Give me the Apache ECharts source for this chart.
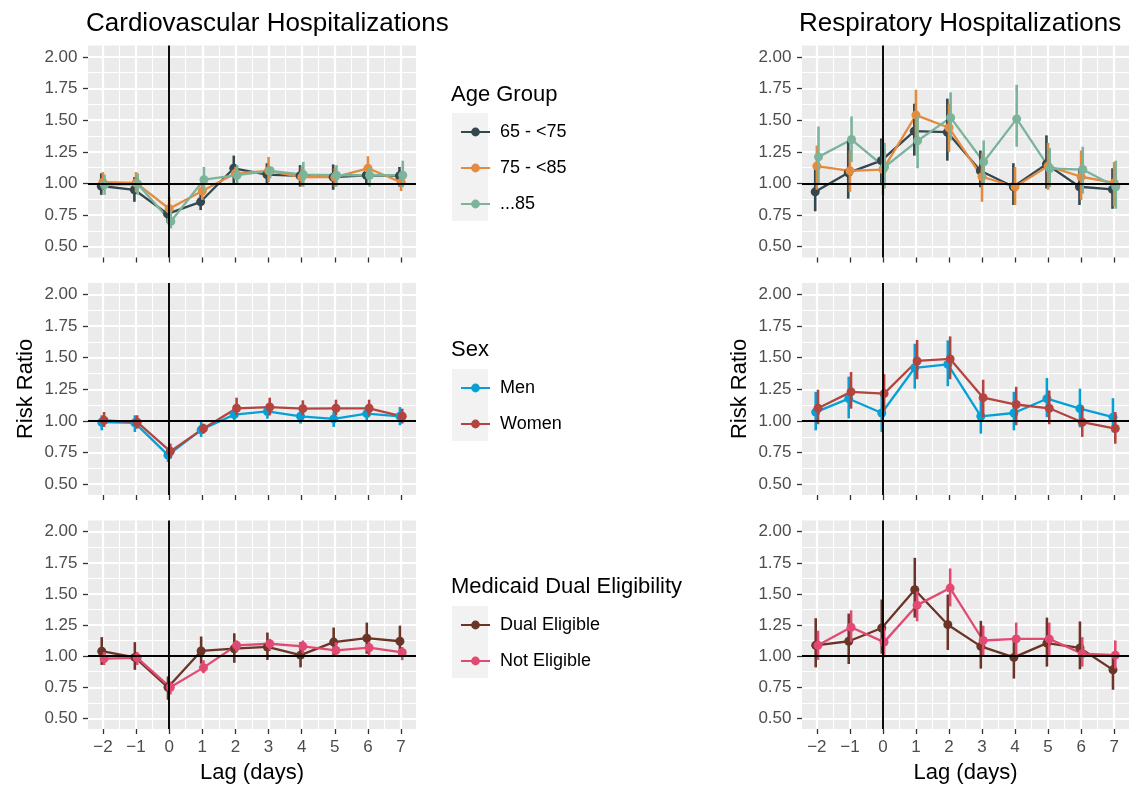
<!DOCTYPE html>
<html>
<head>
<meta charset="utf-8">
<script src="https://cdn.jsdelivr.net/npm/echarts@6/dist/echarts.min.js"></script>
<style>
html,body{margin:0;padding:0;background:#fff;}
#chart{width:1141px;height:785px;}
</style>
</head>
<body>
<div id="chart"></div>
<script>
// ---------------- DATA ----------------
const LAGS = [-2, -1, 0, 1, 2, 3, 4, 5, 6, 7];
const Y_TICKS = [0.5, 0.75, 1.0, 1.25, 1.5, 1.75, 2.0];
const Y_MINOR = [0.625, 0.875, 1.125, 1.375, 1.625, 1.875];
const X_MINOR = [-1.5, -0.5, 0.5, 1.5, 2.5, 3.5, 4.5, 5.5, 6.5];

const AGE_NAMES = ['65 - <75', '75 - <85', '...85'];
const SEX_NAMES = ['Men', 'Women'];
const MEDICAID_NAMES = ['Dual Eligible', 'Not Eligible'];

// Cardiovascular - Age group
const cvAge65Est = [0.98, 0.95, 0.76, 0.855, 1.12, 1.07, 1.06, 1.05, 1.065, 1.06];
const cvAge65Lo  = [0.91, 0.855, 0.69, 0.79, 1.00, 1.00, 0.975, 0.95, 1.00, 0.975];
const cvAge65Hi  = [1.08, 1.05, 0.83, 0.92, 1.22, 1.16, 1.145, 1.15, 1.145, 1.13];
const cvAge75Est = [1.01, 1.005, 0.80, 0.94, 1.08, 1.10, 1.05, 1.05, 1.12, 1.01];
const cvAge75Lo  = [0.95, 0.93, 0.70, 0.87, 1.03, 1.01, 0.975, 0.975, 1.03, 0.94];
const cvAge75Hi  = [1.09, 1.09, 0.895, 1.03, 1.13, 1.21, 1.13, 1.12, 1.215, 1.08];
const cvAge85Est = [0.99, 0.995, 0.70, 1.03, 1.065, 1.10, 1.07, 1.065, 1.065, 1.065];
const cvAge85Lo  = [0.91, 0.91, 0.645, 0.93, 1.00, 1.04, 0.975, 0.975, 0.975, 0.97];
const cvAge85Hi  = [1.07, 1.08, 0.79, 1.13, 1.145, 1.12, 1.17, 1.145, 1.13, 1.18];

// Respiratory - Age group
const rsAge65Est = [0.934, 1.084, 1.18, 1.413, 1.405, 1.10, 0.974, 1.153, 0.974, 0.953];
const rsAge65Lo  = [0.78, 0.88, 0.987, 1.22, 1.18, 0.97, 0.83, 0.96, 0.83, 0.80];
const rsAge65Hi  = [1.12, 1.34, 1.355, 1.63, 1.67, 1.26, 1.16, 1.38, 1.12, 1.12];
const rsAge75Est = [1.137, 1.10, 1.11, 1.54, 1.44, 1.053, 0.974, 1.137, 1.053, 1.005];
const rsAge75Lo  = [0.95, 0.934, 0.91, 1.34, 1.25, 0.855, 0.83, 0.95, 0.87, 0.82];
const rsAge75Hi  = [1.30, 1.26, 1.34, 1.74, 1.63, 1.24, 1.13, 1.32, 1.26, 1.17];
const rsAge85Est = [1.21, 1.347, 1.13, 1.337, 1.52, 1.17, 1.51, 1.118, 1.11, 0.974];
const rsAge85Lo  = [1.00, 1.17, 0.96, 1.12, 1.34, 1.00, 1.29, 0.97, 0.92, 0.80];
const rsAge85Hi  = [1.45, 1.53, 1.32, 1.53, 1.72, 1.34, 1.78, 1.28, 1.29, 1.18];

// Cardiovascular - Sex
const cvMenEst   = [0.99, 0.985, 0.73, 0.93, 1.05, 1.075, 1.037, 1.016, 1.058, 1.037];
const cvMenLo    = [0.926, 0.913, 0.676, 0.874, 0.992, 1.018, 0.979, 0.953, 1.005, 0.966];
const cvMenHi    = [1.045, 1.045, 0.795, 0.992, 1.097, 1.124, 1.084, 1.071, 1.097, 1.11];
const cvWomenEst = [1.005, 0.99, 0.76, 0.94, 1.10, 1.11, 1.097, 1.10, 1.10, 1.037];
const cvWomenLo  = [0.953, 0.939, 0.703, 0.90, 1.045, 1.045, 1.045, 1.045, 1.045, 0.979];
const cvWomenHi  = [1.071, 1.045, 0.821, 0.979, 1.184, 1.184, 1.163, 1.168, 1.168, 1.097];

// Respiratory - Sex
const rsMenEst   = [1.07, 1.176, 1.063, 1.42, 1.447, 1.037, 1.063, 1.176, 1.097, 1.03];
const rsMenLo    = [0.926, 1.02, 0.913, 1.255, 1.274, 0.90, 0.926, 1.03, 0.95, 0.91];
const rsMenHi    = [1.23, 1.35, 1.216, 1.61, 1.637, 1.20, 1.23, 1.34, 1.255, 1.18];
const rsWomenEst = [1.10, 1.23, 1.216, 1.474, 1.49, 1.184, 1.13, 1.10, 0.99, 0.94];
const rsWomenLo  = [0.974, 1.097, 1.08, 1.33, 1.33, 1.03, 0.966, 0.974, 0.874, 0.82];
const rsWomenHi  = [1.247, 1.387, 1.37, 1.64, 1.668, 1.326, 1.27, 1.24, 1.116, 1.07];

// Cardiovascular - Medicaid dual eligibility
const cvDualEst  = [1.04, 0.99, 0.75, 1.042, 1.06, 1.074, 1.008, 1.113, 1.145, 1.12];
const cvDualLo   = [0.93, 0.89, 0.65, 0.94, 0.947, 0.97, 0.91, 1.008, 1.02, 1.00];
const cvDualHi   = [1.153, 1.113, 0.837, 1.158, 1.184, 1.19, 1.113, 1.23, 1.27, 1.245];
const cvNotEst   = [0.98, 0.987, 0.75, 0.908, 1.087, 1.10, 1.079, 1.047, 1.068, 1.03];
const cvNotLo    = [0.929, 0.929, 0.692, 0.863, 1.034, 1.047, 1.021, 0.995, 1.008, 0.968];
const cvNotHi    = [1.034, 1.034, 0.797, 0.968, 1.126, 1.139, 1.126, 1.113, 1.113, 1.074];

// Respiratory - Medicaid dual eligibility
const rsDualEst  = [1.087, 1.12, 1.226, 1.534, 1.253, 1.079, 0.99, 1.105, 1.066, 0.89];
const rsDualLo   = [0.91, 0.937, 1.02, 1.31, 1.05, 0.90, 0.82, 0.916, 0.895, 0.73];
const rsDualHi   = [1.305, 1.342, 1.455, 1.79, 1.495, 1.284, 1.147, 1.31, 1.279, 1.008];
const rsNotEst   = [1.087, 1.232, 1.113, 1.41, 1.547, 1.126, 1.139, 1.139, 1.02, 1.008];
const rsNotLo    = [0.97, 1.113, 0.99, 1.28, 1.40, 0.995, 1.008, 1.008, 0.916, 0.90];
const rsNotHi    = [1.205, 1.368, 1.23, 1.52, 1.705, 1.245, 1.27, 1.27, 1.153, 1.126];

// ---------------- STYLE ----------------
const FONT = 'Liberation Sans, Arial, sans-serif';
const AGE_COLORS = ['#33474f', '#e38b3e', '#7cb49b'];
const SEX_COLORS = ['#07a0d6', '#b4443f'];
const MED_COLORS = ['#6a3426', '#e14a72'];

const GRID_POS = [
  {left: 88,  top: 45.5, width: 328, height: 212},
  {left: 802, top: 45.5, width: 327, height: 212},
  {left: 88,  top: 283,  width: 328, height: 212},
  {left: 802, top: 283,  width: 327, height: 212},
  {left: 88,  top: 520.5, width: 328, height: 212},
  {left: 802, top: 520.5, width: 327, height: 212}
];
const X_MIN = -2.45, X_MAX = 7.45, Y_MIN = 0.415, Y_MAX = 2.09;

function grp(names, colors, k, est, lo, hi) {
  return {name: names[k], color: colors[k], est: est, lo: lo, hi: hi};
}
const PANELS = [
  [grp(AGE_NAMES, AGE_COLORS, 0, cvAge65Est, cvAge65Lo, cvAge65Hi),
   grp(AGE_NAMES, AGE_COLORS, 1, cvAge75Est, cvAge75Lo, cvAge75Hi),
   grp(AGE_NAMES, AGE_COLORS, 2, cvAge85Est, cvAge85Lo, cvAge85Hi)],
  [grp(AGE_NAMES, AGE_COLORS, 0, rsAge65Est, rsAge65Lo, rsAge65Hi),
   grp(AGE_NAMES, AGE_COLORS, 1, rsAge75Est, rsAge75Lo, rsAge75Hi),
   grp(AGE_NAMES, AGE_COLORS, 2, rsAge85Est, rsAge85Lo, rsAge85Hi)],
  [grp(SEX_NAMES, SEX_COLORS, 0, cvMenEst, cvMenLo, cvMenHi),
   grp(SEX_NAMES, SEX_COLORS, 1, cvWomenEst, cvWomenLo, cvWomenHi)],
  [grp(SEX_NAMES, SEX_COLORS, 0, rsMenEst, rsMenLo, rsMenHi),
   grp(SEX_NAMES, SEX_COLORS, 1, rsWomenEst, rsWomenLo, rsWomenHi)],
  [grp(MEDICAID_NAMES, MED_COLORS, 0, cvDualEst, cvDualLo, cvDualHi),
   grp(MEDICAID_NAMES, MED_COLORS, 1, cvNotEst, cvNotLo, cvNotHi)],
  [grp(MEDICAID_NAMES, MED_COLORS, 0, rsDualEst, rsDualLo, rsDualHi),
   grp(MEDICAID_NAMES, MED_COLORS, 1, rsNotEst, rsNotLo, rsNotHi)]
];

const grids = [], xAxes = [], yAxes = [], series = [];

GRID_POS.forEach(function (p, gi) {
  grids.push({left: p.left, top: p.top, width: p.width, height: p.height,
    show: true, backgroundColor: '#ebebeb', borderWidth: 0, containLabel: false});
  const bottomRow = gi >= 4;
  const midRow = gi === 2 || gi === 3;
  // main x axis
  xAxes.push({
    type: 'value', gridIndex: gi, min: X_MIN, max: X_MAX, position: 'bottom',
    name: bottomRow ? 'Lag (days)' : '', nameLocation: 'middle', nameGap: 33,
    nameTextStyle: {fontFamily: FONT, fontSize: 22, color: '#000'},
    axisLine: {show: false, onZero: false},
    axisTick: {show: true, length: 5, customValues: LAGS, lineStyle: {color: '#333', width: 1.3}},
    axisLabel: {show: bottomRow, customValues: LAGS, margin: 9.5, fontFamily: FONT, fontSize: 17, color: '#4d4d4d',
      formatter: function (v) { return v < 0 ? '\u2212' + Math.abs(v) : String(v); }},
    splitLine: {show: true, lineStyle: {color: '#ffffff', width: 2.2}}
  });
  // minor x axis (gridlines only)
  xAxes.push({
    type: 'value', gridIndex: gi, min: X_MIN, max: X_MAX, position: 'top',
    axisLine: {show: false, onZero: false},
    axisTick: {show: false, customValues: X_MINOR},
    axisLabel: {show: false, customValues: X_MINOR},
    splitLine: {show: true, lineStyle: {color: '#ffffff', width: 1.1}}
  });
  yAxes.push({
    type: 'value', gridIndex: gi, min: Y_MIN, max: Y_MAX, position: 'left',
    name: midRow ? 'Risk Ratio' : '', nameLocation: 'middle', nameGap: 51,
    nameTextStyle: {fontFamily: FONT, fontSize: 22, color: '#000'},
    axisLine: {show: false, onZero: false},
    axisTick: {show: true, length: 5, customValues: Y_TICKS, lineStyle: {color: '#333', width: 1.3}},
    axisLabel: {show: true, customValues: Y_TICKS, margin: 10.5, fontFamily: FONT, fontSize: 17, color: '#4d4d4d',
      formatter: function (v) { return v.toFixed(2); }},
    splitLine: {show: true, lineStyle: {color: '#ffffff', width: 2.2}}
  });
  yAxes.push({
    type: 'value', gridIndex: gi, min: Y_MIN, max: Y_MAX, position: 'right',
    axisLine: {show: false, onZero: false},
    axisTick: {show: false, customValues: Y_MINOR},
    axisLabel: {show: false, customValues: Y_MINOR},
    splitLine: {show: true, lineStyle: {color: '#ffffff', width: 1.1}}
  });

  const groups = PANELS[gi];
  const n = groups.length;
  const step = n === 3 ? 0.05 : 0.07;
  const offs = groups.map(function (g, k) { return (k - (n - 1) / 2) * step; });
  // lines
  groups.forEach(function (g, k) {
    const s = {
      type: 'line', name: g.name, xAxisIndex: 2 * gi, yAxisIndex: 2 * gi,
      data: LAGS.map(function (l, i) { return [l + offs[k], g.est[i]]; }),
      symbol: 'circle', showSymbol: false, symbolSize: 9,
      lineStyle: {color: g.color, width: 2.3}, itemStyle: {color: g.color},
      silent: true, animation: false, z: 2
    };
    if (k === 0) {
      s.markLine = {
        silent: true, animation: false, symbol: ['none', 'none'],
        label: {show: false},
        lineStyle: {color: '#000', width: 1.9, type: 'solid'},
        emphasis: {disabled: true},
        data: [{xAxis: 0}, {yAxis: 1}]
      };
    }
    series.push(s);
  });
  // point ranges
  groups.forEach(function (g, k) {
    const col = g.color;
    series.push({
      type: 'custom', name: g.name, xAxisIndex: 2 * gi, yAxisIndex: 2 * gi,
      data: LAGS.map(function (l, i) { return [l + offs[k], g.est[i], g.lo[i], g.hi[i]]; }),
      encode: {x: 0, y: [1, 2, 3]},
      silent: true, animation: false, z: 3,
      renderItem: function (params, api) {
        const x = api.value(0);
        const p = api.coord([x, api.value(1)]);
        const a = api.coord([x, api.value(2)]);
        const b = api.coord([x, api.value(3)]);
        return {type: 'group', children: [
          {type: 'line', shape: {x1: a[0], y1: a[1], x2: b[0], y2: b[1]}, style: {stroke: col, lineWidth: 2.6}},
          {type: 'circle', shape: {cx: p[0], cy: p[1], r: 4.5}, style: {fill: col}}
        ]};
      }
    });
  });
});

function legendCfg(names, top) {
  return {
    data: names, orient: 'vertical', left: 455, top: top,
    itemWidth: 29, itemHeight: 11, itemGap: 18, selectedMode: false,
    textStyle: {fontFamily: FONT, fontSize: 18, color: '#000', lineHeight: 18, padding: [0, 0, 0, 5]}
  };
}

const titleStyle = {fontFamily: FONT, fontSize: 26, fontWeight: 'normal', color: '#000'};
const legTitleStyle = {fontFamily: FONT, fontSize: 22, fontWeight: 'normal', color: '#000'};

const option = {
  animation: false,
  backgroundColor: '#ffffff',
  title: [
    {text: 'Cardiovascular Hospitalizations', left: 86, top: 11, padding: 0, textStyle: titleStyle},
    {text: 'Respiratory Hospitalizations', left: 799, top: 11, padding: 0, textStyle: titleStyle},
    {text: 'Age Group', left: 451, top: 84, padding: 0, textStyle: legTitleStyle},
    {text: 'Sex', left: 451, top: 339, padding: 0, textStyle: legTitleStyle},
    {text: 'Medicaid Dual Eligibility', left: 451, top: 576, padding: 0, textStyle: legTitleStyle}
  ],
  legend: [
    legendCfg(AGE_NAMES, 118),
    legendCfg(SEX_NAMES, 374),
    legendCfg(MEDICAID_NAMES, 611)
  ],
  graphic: [
    {type: 'rect', left: 452, top: 113, shape: {width: 36, height: 108}, style: {fill: '#f2f2f2'}, z: -1, silent: true},
    {type: 'rect', left: 452, top: 369, shape: {width: 36, height: 72}, style: {fill: '#f2f2f2'}, z: -1, silent: true},
    {type: 'rect', left: 452, top: 606, shape: {width: 36, height: 72}, style: {fill: '#f2f2f2'}, z: -1, silent: true}
  ],
  grid: grids,
  xAxis: xAxes,
  yAxis: yAxes,
  series: series
};

const chart = echarts.init(document.getElementById('chart'), null, {renderer: 'canvas'});
chart.setOption(option);
</script>
</body>
</html>
